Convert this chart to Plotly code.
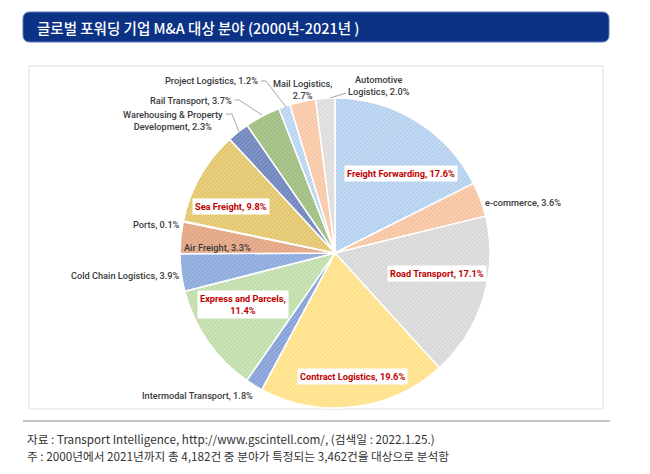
import plotly.graph_objects as go

W, H = 650, 474
PAD = 8  # browser body margin around the figure
FW, FH = W - 2 * PAD, H - 2 * PAD

# data (share of M&A deals by sector, %)
sectors = [
    "Freight Forwarding", "e-commerce", "Road Transport", "Contract Logistics",
    "Intermodal Transport", "Express and Parcels", "Cold Chain Logistics",
    "Air Freight", "Ports", "Sea Freight", "Warehousing & Property Development",
    "Rail Transport", "Project Logistics", "Mail Logistics", "Automotive Logistics",
]
shares = [17.6, 3.6, 17.1, 19.6, 1.8, 11.4, 3.9, 3.3, 0.1, 9.8, 2.3, 3.7, 1.2, 2.7, 2.0]

title = "글로벌 포워딩 기업 M&A 대상 분야 (2000년-2021년 )"
source_note = "자료 : Transport Intelligence, http://www.gscintell.com/, (검색일 : 2022.1.25.)"
count_note = "주 : 2000년에서 2021년까지 총 4,182건 중 분야가 특정되는 3,462건을 대상으로 분석함"

# slice colours (fill, hatch)
fills = ["#c6dcf3", "#f9d2b6", "#e2e2e2", "#ffe9a3", "#98b1de", "#cfe5bf",
         "#9fb8e3", "#e9b496", "#bdbdbd", "#ead28a", "#8497c8", "#aec995",
         "#c9def3", "#fad4b9", "#e6e6e6"]
hatch = ["#abcbec", "#f5bd96", "#d2d2d2", "#ffdc78", "#7d9ad4", "#b7d99f",
         "#86a4da", "#df9e7c", "#a8a8a8", "#dfc05c", "#6a80ba", "#98ba7b",
         "#b1d0ef", "#f7c19c", "#d6d6d6"]


def px(x):
    return (x - PAD) / FW


def py(y):
    return 1 - (y - PAD) / FH


# label placement in pixels: x, y, xanchor, kind, line-break after word n
label_layout = {
    "Freight Forwarding": (401, 173, "center", "key", None),
    "e-commerce": (483, 203, "left", "plain", None),
    "Road Transport": (437, 273, "center", "key", None),
    "Contract Logistics": (352, 376, "center", "key", None),
    "Intermodal Transport": (197, 395, "center", "plain", None),
    "Express and Parcels": (243, 304, "center", "key", 3),
    "Cold Chain Logistics": (182, 275, "right", "plain", None),
    "Air Freight": (217, 247, "center", "plain", None),
    "Ports": (182, 224, "right", "plain", None),
    "Sea Freight": (231, 206, "center", "key", None),
    "Warehousing & Property Development": (173, 121, "center", "plain", 3),
    "Rail Transport": (234, 100, "right", "plain", None),
    "Project Logistics": (260, 81, "right", "plain", None),
    "Mail Logistics": (302, 89, "center", "plain", 2),
    "Automotive Logistics": (379, 85, "center", "plain", 1),
}

leaders = [
    [(226, 114), (232, 114), (239, 132)],
    [(235, 100), (239, 100), (262, 115)],
    [(261, 81), (266, 81), (286, 107)],
    [(346, 93), (330, 98)],
]

fig = go.Figure()

fig.add_trace(go.Pie(
    labels=sectors,
    values=shares,
    sort=False,
    direction="clockwise",
    rotation=0,
    textinfo="none",
    hoverinfo="label+percent",
    marker=dict(
        colors=fills,
        line=dict(color="white", width=1.5),
        pattern=dict(shape="/", fgcolor=hatch, bgcolor=fills, size=3, solidity=0.4),
    ),
    domain=dict(x=[px(180), px(490)], y=[py(408), py(98)]),
    showlegend=False,
))

font_lbl = "Roboto, sans-serif"
for name, val in zip(sectors, shares):
    x, y, anchor, kind, brk = label_layout[name]
    words = name.split(" ")
    if brk:
        if brk == len(words):
            txt = f"{name},<br>{val:.1f}%"
        else:
            txt = " ".join(words[:brk]) + "<br>" + " ".join(words[brk:]) + f", {val:.1f}%"
    else:
        txt = f"{name}, {val:.1f}%"
    if kind == "key":
        fig.add_annotation(
            x=px(x), y=py(y), xref="paper", yref="paper", text=txt,
            showarrow=False, xanchor=anchor, yanchor="middle",
            font=dict(family=font_lbl, size=9.2, color="#c00000", weight=700),
            bgcolor="white", borderpad=2,
        )
    else:
        fig.add_annotation(
            x=px(x), y=py(y), xref="paper", yref="paper", text=txt,
            showarrow=False, xanchor=anchor, yanchor="middle",
            font=dict(family=font_lbl, size=9.2, color="#3a3a3a", weight=500),
        )

for pts in leaders:
    path = "M " + " L ".join(f"{px(a)},{py(b)}" for a, b in pts)
    fig.add_shape(type="path", path=path, xref="paper", yref="paper",
                  line=dict(color="#a6a6a6", width=1))

# title banner with rounded corners
x0, y0, x1, y1, r = 23, 12, 609, 42, 7
banner = (
    f"M {px(x0 + r)},{py(y0)} L {px(x1 - r)},{py(y0)} "
    f"Q {px(x1)},{py(y0)} {px(x1)},{py(y0 + r)} L {px(x1)},{py(y1 - r)} "
    f"Q {px(x1)},{py(y1)} {px(x1 - r)},{py(y1)} L {px(x0 + r)},{py(y1)} "
    f"Q {px(x0)},{py(y1)} {px(x0)},{py(y1 - r)} L {px(x0)},{py(y0 + r)} "
    f"Q {px(x0)},{py(y0)} {px(x0 + r)},{py(y0)} Z"
)
fig.add_shape(type="path", path=banner, xref="paper", yref="paper",
              fillcolor="#0c3286", line=dict(color="#5b77b3", width=1), layer="below")
fig.add_annotation(
    x=px(35), y=py(27), xref="paper", yref="paper", text=title, showarrow=False,
    xanchor="left", yanchor="middle",
    font=dict(family="Noto Sans CJK KR", size=14.5, color="white", weight=500),
)

# chart frame and divider
fig.add_shape(type="rect", x0=px(29), y0=py(409), x1=px(603), y1=py(66),
              xref="paper", yref="paper", line=dict(color="#dedede", width=1), layer="below")
fig.add_shape(type="line", x0=px(23), y0=py(421), x1=px(610), y1=py(421),
              xref="paper", yref="paper", line=dict(color="#8c8c8c", width=1.2))

for txt, y in [(source_note, 438), (count_note, 455)]:
    fig.add_annotation(
        x=px(25), y=py(y), xref="paper", yref="paper", text=txt, showarrow=False,
        xanchor="left", yanchor="middle",
        font=dict(family="Noto Sans CJK KR", size=11.7, color="#333333"),
    )

fig.update_layout(
    width=FW, height=FH,
    margin=dict(l=0, r=0, t=0, b=0),
    paper_bgcolor="white",
    plot_bgcolor="white",
)

fig.write_html("out.html")
